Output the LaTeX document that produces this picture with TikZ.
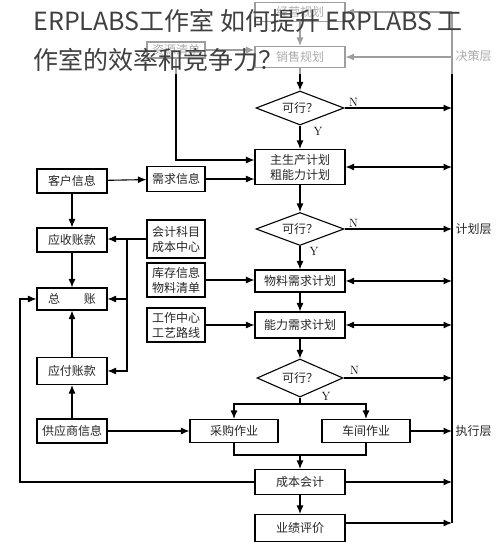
\documentclass[tikz,border=0pt]{standalone}
\usepackage{fontspec}
\newfontfamily\cjk{Noto Sans CJK SC}
\usetikzlibrary{shapes.geometric,arrows.meta}
\tikzset{box/.style={draw,line width=1.1pt,align=center,inner sep=1pt,font=\cjk\fontsize{12}{15}\selectfont,text=black!85}}
\tikzset{mid/.style={box,minimum width=90pt}}
\tikzset{side/.style={box,minimum width=70pt,minimum height=24pt}}
\tikzset{info/.style={box,minimum width=58pt}}
\tikzset{ask/.style={diamond,draw,line width=1.1pt,aspect=2.6,minimum width=88pt,minimum height=34pt,inner sep=0pt,font=\cjk\fontsize{12}{14}\selectfont,text=black!85}}
\tikzset{yn/.style={font=\fontsize{12}{14}\selectfont,inner sep=1pt}}
\tikzset{layer/.style={anchor=west,inner sep=0pt,font=\cjk\fontsize{12}{14}\selectfont,text=black!85}}

\begin{document}
\begin{tikzpicture}[x=1pt,y=-1pt,>={Latex[length=8.5pt,width=7pt]},line width=1.1pt]
    \useasboundingbox (0,0) rectangle (500,547);

    % decision
    \node[mid,minimum height=19pt] (jy) at (300,12) {经营规划};
    \node[mid,minimum height=21pt] (xs) at (300,57) {销售规划};
    \node[info,minimum height=16pt] (zy) at (176,50) {资源清单};
    \node[ask] (k1) at (300,108) {可行？};

    % planning
    \node[mid,minimum height=35pt] (zsc) at (300,167) {主生产计划\\粗能力计划};
    \node[ask,minimum height=33pt] (k2) at (300,229) {可行？};
    \node[mid,minimum height=22pt] (wl) at (300,281) {物料需求计划};
    \node[mid,minimum height=26pt] (nl) at (300,325) {能力需求计划};
    \node[ask,minimum height=38pt,minimum width=86pt] (k3) at (300,378) {可行？};

    % execution
    \node[box,minimum width=88pt,minimum height=23pt] (cg) at (234,431) {采购作业};
    \node[box,minimum width=88pt,minimum height=23pt] (cj) at (366,431) {车间作业};
    \node[mid,minimum height=25pt] (cb) at (300,482) {成本会计};
    \node[mid,minimum height=27pt] (yj) at (300,528) {业绩评价};

    % left side
    \node[side] (kh) at (72,181) {客户信息};
    \node[side] (ys) at (72,240) {应收账款};
    \node[side,minimum height=22pt] (zz) at (72,299) {总\hspace{24pt}账};
    \node[side,minimum height=27pt] (yf) at (72,371) {应付账款};
    \node[side] (gy) at (72,431) {供应商信息};
    \node[info,minimum height=25pt] (xq) at (176,179) {需求信息};
    \node[info,minimum height=38pt] (kj) at (176,239) {会计科目\\成本中心};
    \node[info,minimum height=34pt] (kc) at (176,280) {库存信息\\物料清单};
    \node[info,minimum height=34pt] (gz) at (176,325) {工作中心\\工艺路线};

    % layers
    \coordinate (rt) at (452,12);
    \coordinate (rb) at (452,523);
    \draw (rt) -- (rb);
    \node[layer] (jc) at (455,56) {决策层};
    \node[layer] (jh) at (455,229) {计划层};
    \node[layer] (zx) at (455,431) {执行层};

    \draw[->] (rt) -- (jy.east);
    \draw[->] (xs.east -| rt) -- (xs.east);
    \draw[->] (jy) -- (xs);
    \draw[->] (zy.east) -- (zy.east -| xs.west);
    \draw[->] (zy.south) |- ([yshift=7pt]zsc.west);
    \draw[->] (xs) -- (k1);
    \draw[->] (k1.east) node[yn,anchor=south west,xshift=3pt]{N} -- (k1.east -| rt);
    \draw[->] (k1.south) node[yn,anchor=north west,xshift=12pt]{Y} -- (zsc.north);
    \draw[<->] (zsc.east) -- (zsc.east -| rt);
    \draw[->] (kh) -- (xq);
    \draw[->] (xq.east) -- (xq.east -| zsc.west);
    \draw[->] (zsc) -- (k2);
    \draw[->] (k2.east) node[yn,anchor=south west,xshift=3pt]{N} -- (k2.east -| rt);
    \draw[->] (k2.south) node[yn,anchor=north west,xshift=8pt]{Y} -- (wl.north);
    \draw[<->] (wl.east) -- (wl.east -| rt);
    \draw[->] (kc.east) -- (kc.east -| wl.west);
    \draw[->] (wl) -- (nl);
    \draw[<->] (nl.east) -- (nl.east -| rt);
    \draw[->] (gz.east) -- (gz.east -| nl.west);
    \draw[->] (nl) -- (k3);
    \draw[->] (k3.east) node[yn,anchor=south west,xshift=5pt,yshift=2pt]{N} -- (k3.east -| rt);
    \coordinate (fk) at (300,404);
    \draw (k3.south) node[yn,anchor=south west,xshift=20pt,yshift=-4pt]{Y} -- (fk);
    \draw[->] (fk) -| (cg.north);
    \draw[->] (fk) -| (cj.north);
    \draw[->] (gy) -- (cg);
    \draw[->] (cj.east) -- (cj.east -| rt);
    \coordinate (hb) at (300,455);
    \draw (cg.south) |- (hb) -| (cj.south);
    \draw[->] (hb) -- (cb);
    \draw[->] (cb.east) -- (cb.east -| rt);
    \draw[->] (cb) -- (yj);
    \draw[->] ([yshift=5pt]yj.east) -- ([yshift=5pt]yj.east -| rt);

    \draw[->] (kh) -- (ys);
    \draw[->] (ys) -- (zz);
    \draw[->] (yf) -- (zz);
    \draw[->] (gy) -- (yf);
    \coordinate (kjx) at (127,239);
    \draw[->] (kj.west) -- (kj.west -| ys.east);
    \draw[->] (kjx) |- (zz.east);
    \draw[->] (kjx) |- (yf.east);
    \coordinate (lx) at (20,482);
    \draw[->] (cb.west) -- (lx) |- (zz.west);

    % faded top with the title over it
    \fill[white,opacity=0.62] (0,0) rectangle (500,74);
    \node[anchor=west,inner sep=0pt,font=\cjk\fontsize{25}{30}\selectfont,text=black!75] (t1) at (33,21) {ERPLABS工作室 如何提升 ERPLABS 工};
    \node[anchor=west,inner sep=0pt,font=\cjk\fontsize{25}{30}\selectfont,text=black!75] (t2) at (33,60) {作室的效率和竞争力？};
\end{tikzpicture}
\end{document}
